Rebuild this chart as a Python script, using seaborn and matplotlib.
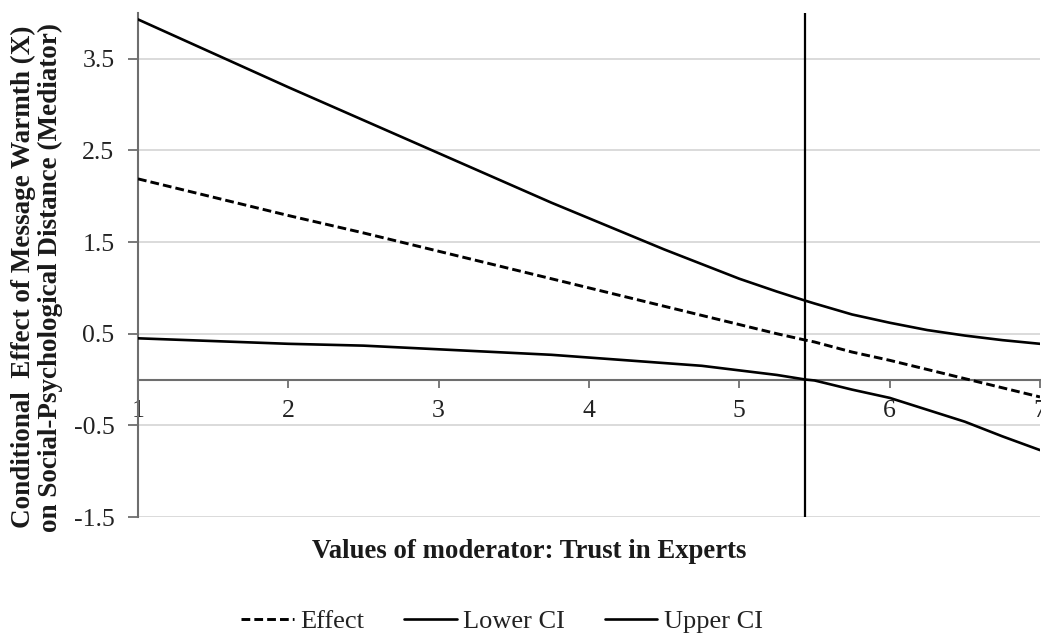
import matplotlib
matplotlib.use("Agg")
import matplotlib.pyplot as plt
import seaborn as sns
import pandas as pd

# Johnson-Neyman style probe: conditional effect of X on the mediator across the moderator
moderator = [1.0, 1.5, 2.0, 2.5, 3.0, 3.5, 3.75, 4.0, 4.25, 4.5, 4.75, 5.0, 5.25,
             5.44, 5.5, 5.75, 6.0, 6.25, 6.5, 6.75, 7.0]
effect = [2.19, 1.99, 1.79, 1.60, 1.40, 1.20, 1.10, 1.00, 0.90, 0.80, 0.70, 0.60, 0.50,
          0.43, 0.41, 0.30, 0.21, 0.11, 0.01, -0.09, -0.19]
lower_ci = [0.45, 0.42, 0.39, 0.37, 0.33, 0.29, 0.27, 0.24, 0.21, 0.18, 0.15, 0.10, 0.05,
            0.00, -0.01, -0.11, -0.20, -0.33, -0.46, -0.62, -0.77]
upper_ci = [3.93, 3.56, 3.19, 2.83, 2.47, 2.11, 1.93, 1.76, 1.59, 1.42, 1.26, 1.10, 0.96,
            0.86, 0.83, 0.71, 0.62, 0.54, 0.48, 0.43, 0.39]
jn_point = 5.44

x_ticks = [1, 2, 3, 4, 5, 6, 7]
y_ticks = [-1.5, -0.5, 0.5, 1.5, 2.5, 3.5]

sns.set_theme(style="white")
plt.rcParams["font.family"] = ["Liberation Serif", "DejaVu Serif"]

df = pd.DataFrame({
    "moderator": moderator * 3,
    "value": effect + lower_ci + upper_ci,
    "series": ["Effect"] * len(moderator) + ["Lower CI"] * len(moderator) + ["Upper CI"] * len(moderator),
})

fig = plt.figure(figsize=(10.41, 6.35), dpi=100)
ax = fig.add_axes([138 / 1041, 1 - 517 / 635, (1040 - 138) / 1041, (517 - 13) / 635])

for y in y_ticks:
    ax.axhline(y, color="#d4d4d4", lw=1.2, zorder=0)

styles = {"Effect": (0, (3.0, 1.4)), "Lower CI": "-", "Upper CI": "-"}
for name, ls in styles.items():
    sub = df[df["series"] == name]
    sns.lineplot(data=sub, x="moderator", y="value", ax=ax, color="black",
                 lw=1.9 if ls == "-" else 2.1, linestyle=ls, label=name,
                 legend=False, zorder=3)

ax.axvline(jn_point, color="black", lw=1.6, zorder=4)

ax.set_xlim(1, 7)
ax.set_ylim(-1.5, 4.0)

ax.spines["top"].set_visible(False)
ax.spines["right"].set_visible(False)
ax.spines["bottom"].set_position(("data", 0))
ax.spines["bottom"].set_color("#6e6e6e")
ax.spines["bottom"].set_linewidth(1.5)
ax.spines["left"].set_color("#6e6e6e")
ax.spines["left"].set_linewidth(1.5)

ax.set_xticks(x_ticks)
ax.set_xticklabels([str(t) for t in x_ticks])
ax.set_yticks(y_ticks)
ax.set_yticklabels([f"{t:.1f}" for t in y_ticks])
ax.tick_params(axis="x", direction="out", length=6, width=1.3, color="#6e6e6e",
               pad=9, labelsize=18.5, labelcolor="#222222", bottom=True)
ax.tick_params(axis="y", direction="out", length=7, width=1.3, color="#6e6e6e",
               pad=10, labelsize=18.5, labelcolor="#222222", left=True)
ax.set_xlabel("")
ax.set_ylabel("")

fig.text(37 / 1041, 1 - 277 / 635,
         "Conditional  Effect of Message Warmth (X)\non Social-Psychological Distance (Mediator)",
         rotation=90, ha="center", va="center", multialignment="center",
         fontsize=19.5, fontweight="bold", color="#1a1a1a", linespacing=1.1)
fig.text(529 / 1041, 1 - 552 / 635, "Values of moderator: Trust in Experts",
         ha="center", va="center", fontsize=19.3, fontweight="bold", color="#1a1a1a")

handles, labels = ax.get_legend_handles_labels()
fig.legend(handles, labels, loc="center", bbox_to_anchor=(502 / 1041, 1 - 621 / 635),
           ncol=3, frameon=False, fontsize=19, handlelength=2.0, handletextpad=0.25,
           columnspacing=1.5, labelcolor="#222222")

fig.savefig("out.png", dpi=100, facecolor="white")
